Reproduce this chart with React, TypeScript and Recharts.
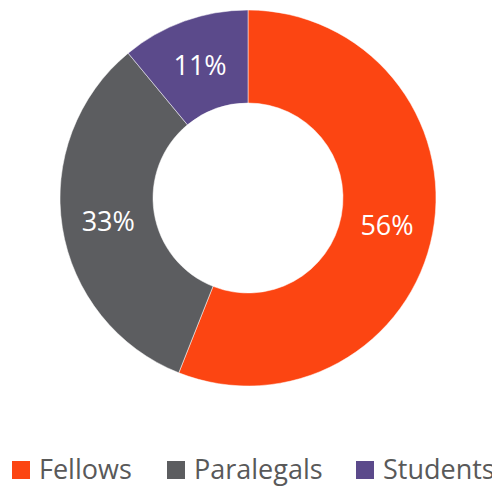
import React from 'react';
import { PieChart, Pie, Cell, Legend } from 'recharts';

const categories = ['Fellows', 'Paralegals', 'Students'];
const values = [56, 33, 11];
const colors = ['#FC4512', '#5C5D60', '#5B4A8B'];

const data = categories.map((name, i) => ({ name, value: values[i] }));

const RAD = Math.PI / 180;

const renderLabel = (props: any) => {
  const { cx, cy, midAngle, innerRadius, outerRadius, value } = props;
  const r = (innerRadius + outerRadius) / 2;
  const x = cx + r * Math.cos(-midAngle * RAD);
  const y = cy + r * Math.sin(-midAngle * RAD);
  return (
    <text x={x} y={y} fill="#ffffff" textAnchor="middle" dominantBaseline="central"
      fontFamily="'Open Sans', sans-serif" fontSize={27}>
      {`${value}%`}
    </text>
  );
};

const renderLegend = () => (
  <div style={{ position: 'relative', width: 500, height: 36, fontFamily: "'Open Sans', sans-serif" }}>
    {categories.map((c, i) => {
      const lefts = [4, 159, 348];
      return (
        <React.Fragment key={c}>
          <div style={{ position: 'absolute', left: lefts[i], top: 13, width: 18, height: 18, background: colors[i] }} />
          <span style={{ position: 'absolute', left: lefts[i] + 27, top: 7, color: '#595959', fontSize: 27, lineHeight: '28px', whiteSpace: 'nowrap' }}>{c}</span>
        </React.Fragment>
      );
    })}
  </div>
);

export default function App() {
  return (
    <PieChart width={500} height={488}>
      <Pie
        data={data}
        dataKey="value"
        nameKey="name"
        cx={235}
        cy={185}
        innerRadius={95}
        outerRadius={188}
        startAngle={90}
        endAngle={-270}
        stroke="#ffffff"
        strokeWidth={0.5}
        label={renderLabel}
        labelLine={false}
        isAnimationActive={false}
      >
        {data.map((d, i) => (
          <Cell key={d.name} fill={colors[i]} />
        ))}
      </Pie>
      <Legend content={renderLegend} wrapperStyle={{ position: 'absolute', left: 0, top: 440, width: 500 }} />
    </PieChart>
  );
}
